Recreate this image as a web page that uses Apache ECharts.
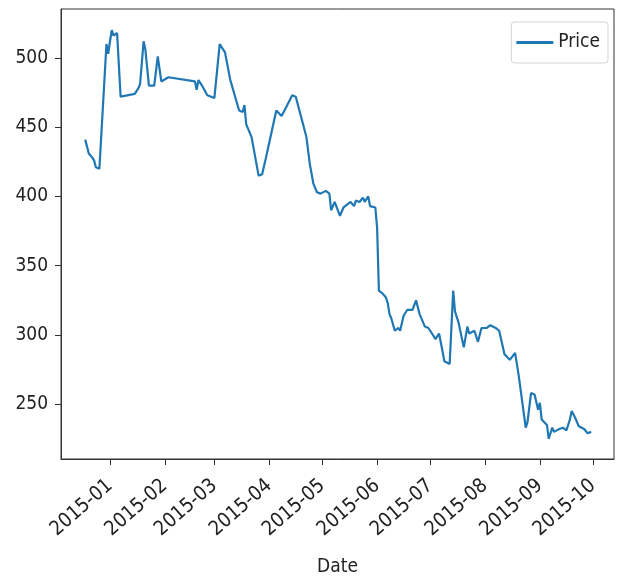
<!DOCTYPE html>
<html>
<head>
<meta charset="utf-8">
<script src="https://cdn.jsdelivr.net/npm/echarts@6/dist/echarts.min.js"></script>
<style>
  html, body { margin: 0; padding: 0; background: #fff; }
  #chart { width: 621px; height: 579px; }
</style>
</head>
<body>
<div id="chart"></div>
<script>
const FONT = '"DejaVu Sans Condensed", "DejaVu Sans", sans-serif';
const LINE_COLOR = '#1f77b4';

const dates = [
  '2014-12-18', '2014-12-19', '2014-12-20', '2014-12-22', '2014-12-23', '2014-12-24',
  '2014-12-26', '2014-12-27', '2014-12-30', '2014-12-31', '2015-01-01', '2015-01-02',
  '2015-01-03', '2015-01-05', '2015-01-07', '2015-01-15', '2015-01-17', '2015-01-18',
  '2015-01-20', '2015-01-21', '2015-01-23', '2015-01-26', '2015-01-28', '2015-01-30',
  '2015-02-03', '2015-02-18', '2015-02-19', '2015-02-20', '2015-02-22', '2015-02-25',
  '2015-03-01', '2015-03-04', '2015-03-07', '2015-03-10', '2015-03-15', '2015-03-17',
  '2015-03-18', '2015-03-19', '2015-03-22', '2015-03-26', '2015-03-28', '2015-03-30',
  '2015-04-05', '2015-04-08', '2015-04-10', '2015-04-14', '2015-04-16', '2015-04-22',
  '2015-04-24', '2015-04-26', '2015-04-28', '2015-04-30', '2015-05-03', '2015-05-05',
  '2015-05-06', '2015-05-08', '2015-05-11', '2015-05-13', '2015-05-15', '2015-05-17',
  '2015-05-19', '2015-05-20', '2015-05-22', '2015-05-24', '2015-05-25', '2015-05-27',
  '2015-05-28', '2015-05-31', '2015-06-01', '2015-06-02', '2015-06-04', '2015-06-06',
  '2015-06-07', '2015-06-08', '2015-06-09', '2015-06-11', '2015-06-13', '2015-06-14',
  '2015-06-16', '2015-06-18', '2015-06-21', '2015-06-23', '2015-06-25', '2015-06-28',
  '2015-06-30', '2015-07-02', '2015-07-04', '2015-07-06', '2015-07-08', '2015-07-09',
  '2015-07-12', '2015-07-14', '2015-07-15', '2015-07-17', '2015-07-20', '2015-07-22',
  '2015-07-23', '2015-07-26', '2015-07-28', '2015-07-30', '2015-08-02', '2015-08-04',
  '2015-08-07', '2015-08-09', '2015-08-12', '2015-08-15', '2015-08-16', '2015-08-18',
  '2015-08-20', '2015-08-24', '2015-08-25', '2015-08-27', '2015-08-29', '2015-08-31',
  '2015-09-01', '2015-09-02', '2015-09-05', '2015-09-06', '2015-09-08', '2015-09-09',
  '2015-09-12', '2015-09-14', '2015-09-16', '2015-09-18', '2015-09-19', '2015-09-21',
  '2015-09-23', '2015-09-26', '2015-09-28', '2015-09-30',
];
const prices = [
  441, 436, 431, 428, 426, 421,
  420, 419, 510, 503, 512, 520,
  516, 518, 472, 474, 478, 481,
  512, 506, 480, 480, 501, 483,
  486, 483, 477, 484, 480, 473,
  471, 510, 504, 484, 462, 461,
  466, 452, 443, 415, 416, 427,
  462, 458, 463, 473, 472, 443,
  423, 409, 403, 402, 404, 402,
  390, 396, 386, 392, 394, 396,
  393, 397, 396, 399, 396, 400,
  393, 392, 377, 332, 330, 327,
  323, 315, 312, 303, 305, 303,
  314, 318, 318, 325, 315, 306,
  305, 301, 297, 301, 288, 281,
  279, 332, 317, 309, 291, 306,
  301, 303, 295, 305, 305, 307,
  305, 303, 286, 282, 282, 287,
  271, 233, 237, 258, 257, 246,
  251, 239, 235, 225, 233, 230,
  232, 233, 231, 239, 245, 240,
  234, 232, 229, 230,
];
const seriesName = 'Price';
const xTickLabels = [
  '2015-01', '2015-02', '2015-03', '2015-04', '2015-05',
  '2015-06', '2015-07', '2015-08', '2015-09', '2015-10',
];
const yTickValues = [250, 300, 350, 400, 450, 500];

const DAY = 86400000;
const toTime = (s) => {
  const [y, m, d] = s.split('-').map(Number);
  return Date.UTC(y, m - 1, d || 1);
};
const jan1 = Date.UTC(2015, 0, 1);
const xMin = jan1 - 27.7 * DAY;
const xMax = jan1 + 284.9 * DAY;
const monthTicks = xTickLabels.map(toTime);

const chart = echarts.init(document.getElementById('chart'), null, { renderer: 'canvas' });

chart.setOption({
  animation: false,
  backgroundColor: '#fff',
  grid: {
    left: 61,
    right: 7,
    top: 9,
    bottom: 120,
    containLabel: false,
    outerBoundsMode: 'none',
    show: true,
    borderColor: '#333',
    borderWidth: 1,
    backgroundColor: 'transparent',
  },
  legend: {
    data: [seriesName],
    right: 13,
    top: 22,
    icon: 'rect',
    itemWidth: 37,
    itemHeight: 3,
    itemGap: 10,
    padding: [11, 8, 11, 5],
    borderColor: '#d4d4d4',
    borderWidth: 1,
    borderRadius: 3,
    backgroundColor: '#fff',
    textStyle: { fontFamily: FONT, fontSize: 19, color: '#222' },
  },
  xAxis: {
    type: 'value',
    min: xMin,
    max: xMax,
    name: 'Date',
    nameLocation: 'middle',
    nameGap: 99,
    nameTextStyle: { fontFamily: FONT, fontSize: 19, color: '#222' },
    axisLine: { show: true, lineStyle: { color: '#333', width: 1 } },
    axisTick: {
      show: true,
      length: 6,
      lineStyle: { color: '#333' },
      customValues: monthTicks,
    },
    axisLabel: {
      customValues: monthTicks,
      rotate: 41,
      margin: 24,
      fontFamily: FONT,
      fontSize: 20,
      color: '#222',
      formatter: (value) => {
        const d = new Date(value);
        return d.getUTCFullYear() + '-' + String(d.getUTCMonth() + 1).padStart(2, '0');
      },
    },
    splitLine: { show: false },
  },
  yAxis: {
    type: 'value',
    min: 210.4,
    max: 535.3,
    axisLine: { show: true, lineStyle: { color: '#333', width: 1 } },
    axisTick: {
      show: true,
      length: 6,
      lineStyle: { color: '#333' },
      customValues: yTickValues,
    },
    axisLabel: {
      customValues: yTickValues,
      margin: 13,
      fontFamily: FONT,
      fontSize: 19,
      color: '#222',
    },
    splitLine: { show: false },
  },
  series: [
    {
      name: seriesName,
      type: 'line',
      data: dates.map((d, i) => [toTime(d), prices[i]]),
      showSymbol: false,
      symbol: 'none',
      color: LINE_COLOR,
      lineStyle: { color: LINE_COLOR, width: 2.2 },
    },
  ],
});
</script>
</body>
</html>
